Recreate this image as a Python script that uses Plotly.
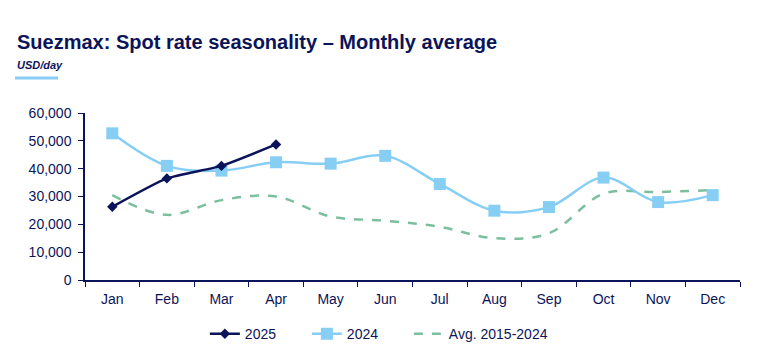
import plotly.graph_objects as go

months = ["Jan", "Feb", "Mar", "Apr", "May", "Jun", "Jul", "Aug", "Sep", "Oct", "Nov", "Dec"]
y2025 = [26300, 36500, 41000, 48700]
y2024 = [52700, 41000, 39300, 42300, 41800, 44600, 34500, 24900, 26200, 36800, 28000, 30500]
yavg = [30500, 23400, 28700, 30000, 22800, 21300, 19100, 15000, 16800, 31000, 31600, 32300]
yticks = [0, 10000, 20000, 30000, 40000, 50000, 60000]

navy = "#0c1459"
light = "#87cef5"
green = "#7cbf9e"
font = "Liberation Sans, Arial, sans-serif"

fig = go.Figure()
# empty spacer entry so the last real legend label is not clipped by the fixed entry width
fig.add_trace(go.Scatter(x=[None], y=[None], name="\u00a0", mode="lines",
                         line=dict(color="rgba(0,0,0,0)", width=0), hoverinfo="skip"))
fig.add_trace(go.Scatter(x=months, y=yavg, name="Avg. 2015-2024", mode="lines",
                         line=dict(color=green, width=2.5, dash="dash", shape="spline", smoothing=1.0)))
fig.add_trace(go.Scatter(x=months, y=y2024, name="2024", mode="lines+markers",
                         line=dict(color=light, width=2.5, shape="spline", smoothing=1.0),
                         marker=dict(symbol="square", size=12, color=light)))
fig.add_trace(go.Scatter(x=months[:len(y2025)], y=y2025, name="2025", mode="lines+markers",
                         line=dict(color=navy, width=2.5, shape="spline", smoothing=0.5),
                         marker=dict(symbol="diamond", size=8, color=navy)))

fig.update_layout(
    width=766, height=364,
    margin=dict(l=77, r=34, t=105, b=92),
    plot_bgcolor="white", paper_bgcolor="white",
    font=dict(family=font, color=navy, size=14),
    showlegend=True,
    legend=dict(orientation="h", x=0.183, xanchor="left", y=-0.228, yanchor="top",
                traceorder="reversed", font=dict(size=14, color=navy),
                entrywidth=57, entrywidthmode="pixels"),
)
fig.update_xaxes(type="category", categoryorder="array", categoryarray=months, range=[-0.5, 11.5],
                 showline=True, linecolor=navy, linewidth=1.5,
                 ticks="outside", tickson="boundaries", tickcolor=navy, ticklen=5,
                 ticklabelstandoff=5,
                 showgrid=False, zeroline=False)
fig.update_yaxes(range=[0, 60000], tickvals=yticks, tickformat=",d",
                 showline=True, linecolor=navy, linewidth=1.5,
                 ticks="outside", tickcolor=navy, ticklen=5, ticklabelstandoff=4,
                 showgrid=False, zeroline=False)

fig.add_annotation(text="<b>Suezmax: Spot rate seasonality – Monthly average</b>",
                   xref="paper", yref="paper", x=0, y=1, xshift=-70, yshift=71,
                   xanchor="left", yanchor="middle", showarrow=False,
                   font=dict(size=20, color=navy, family=font))
fig.add_annotation(text="<b><i>USD/day</i></b>",
                   xref="paper", yref="paper", x=0, y=1, xshift=-70, yshift=48,
                   xanchor="left", yanchor="middle", showarrow=False,
                   font=dict(size=11, color=navy, family=font))
fig.add_shape(type="line", xref="paper", yref="paper", x0=-70, x1=-27, y0=35, y1=35,
              xsizemode="pixel", ysizemode="pixel", xanchor=0, yanchor=1,
              line=dict(color=light, width=3))

fig.write_html("out.html")
